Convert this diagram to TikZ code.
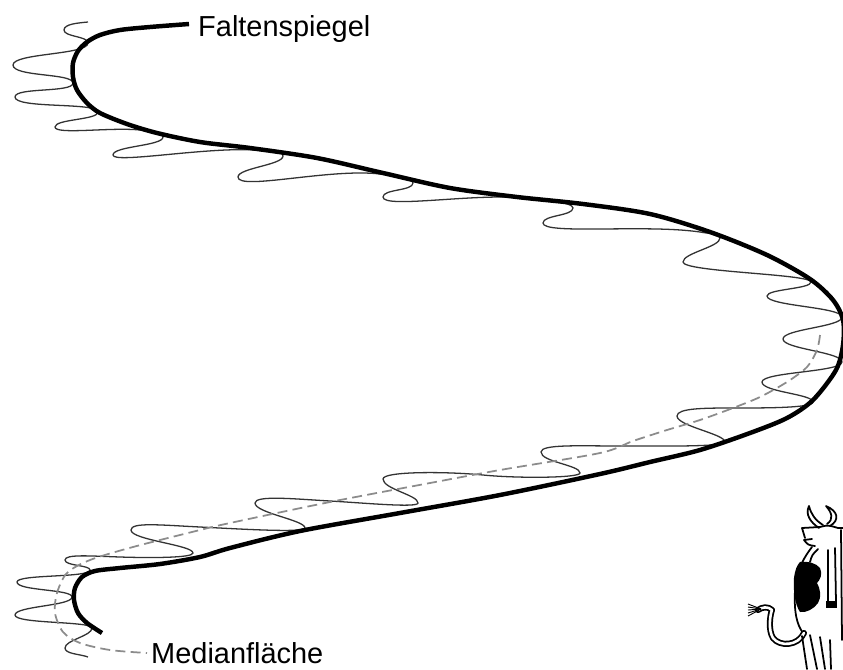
\documentclass[tikz,border=0pt]{standalone}
\usepackage{fontspec}
\setmainfont{Liberation Sans}
\begin{document}
\begin{tikzpicture}[x=0.03cm, y=-0.03cm,
  mirror/.style={line width=3.8pt},
  fold/.style={line width=1.1pt, black!80},
  median/.style={line width=1.5pt, black!45, dash pattern=on 8.5pt off 4.5pt},
  cowline/.style={line width=1.5pt, line join=round, line cap=round},
  label/.style={font=\fontsize{24.7}{28}\selectfont, inner sep=0pt}]

\useasboundingbox (0,0) rectangle (843,669);

% folded layer, every hinge turns with a vertical tangent
\draw[fold] (88,22)
  .. controls +(-10,1) and +(0,-6) .. (64,30)
  .. controls +(0,7) and +(0,-7) .. (88,43)
  .. controls +(0,12) and +(0,-12) .. (13,65)
  .. controls +(0,12) and +(0,-10) .. (73,83)
  .. controls +(0,10) and +(0,-10) .. (15,97)
  .. controls +(0,12) and +(0,-10) .. (98,112)
  .. controls +(0,8) and +(0,-8) .. (55,127)
  .. controls +(0,8) and +(-30,-3) .. (140,130)
  .. controls +(12,1.5) and +(0,-6) .. (163,137)
  .. controls +(0,9) and +(0,-9) .. (113,155)
  .. controls +(0,9) and +(-50,-3) .. (255,150)
  .. controls +(12,1) and +(0,-6) .. (283,156)
  .. controls +(0,9) and +(0,-9) .. (238,177)
  .. controls +(0,14) and +(-50,-6) .. (380,174)
  .. controls +(12,1.5) and +(0,-6) .. (413,183)
  .. controls +(0,8) and +(0,-8) .. (383,197)
  .. controls +(0,12) and +(-50,-5) .. (525,198)
  .. controls +(15,1.5) and +(0,-6) .. (573,208)
  .. controls +(0,8) and +(0,-8) .. (543,223)
  .. controls +(0,12) and +(-55,-8) .. (700,232)
  .. controls +(10,2) and +(0,-5) .. (720,238)
  .. controls +(0,9) and +(0,-9) .. (683,262)
  .. controls +(0,10) and +(0,-8) .. (811,282)
  .. controls +(0,7) and +(0,-7) .. (767,296)
  .. controls +(0,10) and +(0,-10) .. (842,317)
  .. controls +(0,10) and +(0,-10) .. (783,339)
  .. controls +(0,10) and +(0,-10) .. (842,362)
  .. controls +(0,10) and +(0,-10) .. (762,382)
  .. controls +(0,10) and +(0,-8) .. (813,402)
  .. controls +(0,6) and +(30,0) .. (735,408)
  .. controls +(-30,0) and +(0,-8) .. (677,416)
  .. controls +(0,10) and +(0,-8) .. (725,442)
  .. controls +(0,5) and +(40,0) .. (620,446)
  .. controls +(-40,0) and +(0,-8) .. (541,452)
  .. controls +(0,10) and +(0,-8) .. (580,473)
  .. controls +(0,5) and +(35,3.5) .. (483,475)
  .. controls +(-35,-3.5) and +(0,-8) .. (383,479)
  .. controls +(0,10) and +(0,-8) .. (418,503)
  .. controls +(0,5) and +(35,2) .. (330,501)
  .. controls +(-35,-2) and +(0,-8) .. (255,503)
  .. controls +(0,10) and +(0,-8) .. (305,528)
  .. controls +(0,5) and +(40,2) .. (200,527)
  .. controls +(-40,-2) and +(0,-8) .. (131,530)
  .. controls +(0,10) and +(0,-8) .. (193,553)
  .. controls +(0,5) and +(30,1) .. (120,557)
  .. controls +(-30,-1) and +(0,-6) .. (65,560)
  .. controls +(0,6) and +(0,-5) .. (90,570)
  .. controls +(0,8) and +(0,-8) .. (17,582)
  .. controls +(0,9) and +(0,-8) .. (72,597)
  .. controls +(0,9) and +(0,-9) .. (15,615)
  .. controls +(0,9) and +(0,-7) .. (92,628)
  .. controls +(0,8) and +(0,-8) .. (65,648)
  .. controls +(0,6) and +(-8,-3) .. (88,657);

% median surface
\draw[median] plot[smooth] coordinates {
  (820,335) (817,350) (807,367) (787,382) (760,397) (733,408) (700,420)
  (667,430) (633,441) (600,453) (500,470) (430,483) (330,502) (230,523)
  (200,530) (133,547) (90,560) (67,573) (57,593) (55,613) (63,632)
  (80,643) (110,650) (147,653)};

% enveloping surface
\draw[mirror] plot[smooth] coordinates {
  (189,24) (150,27) (120,30) (100,35) (87,42) (78,51) (73,63) (73,77)
  (77,90) (87,103) (100,113) (127,124) (157,133) (200,142) (250,148)
  (317,158) (383,173) (450,188) (517,197) (583,204) (650,214) (710,232)
  (767,255) (810,279) (833,300) (843,320) (843,345) (836,370) (813,400)
  (787,418) (750,433) (700,450) (650,462) (600,474) (500,495) (400,513)
  (300,531) (230,548) (200,557) (160,564) (120,568) (95,571) (82,577)
  (75,588) (74,600) (78,613) (87,623) (102,633)};

\node[label, anchor=base west] (faltenspiegel) at (198,36) {Faltenspiegel};
\node[label, anchor=base west] (medianflaeche) at (151,663) {Medianfläche};

% the cow
\draw[cowline, fill=white] (819,528) .. controls (810,522) and (805,514) .. (809,506)
  .. controls (811,514) and (815,520) .. (823,525);
\draw[cowline, fill=white] (830,526) .. controls (840,520) and (838,511) .. (826,506)
  .. controls (832,513) and (834,519) .. (827,524);
\draw[cowline] (805,538) -- (802,528) -- (820,527) .. controls (828,525) .. (838,528) -- (843,528);
\draw[cowline] (815,546) .. controls (808,545) .. (804,540) -- (812,539);
\draw[cowline] (812,547) .. controls (805,556) and (797,568) .. (795,590)
  .. controls (794,610) and (796,625) .. (804,634);
\draw[cowline] (818,549) .. controls (812,555) .. (810,562);
\fill (800,562) .. controls (808,561) and (816,563) .. (820,568)
  .. controls (823,574) and (820,580) .. (817,583)
  .. controls (820,588) and (822,597) .. (818,603)
  .. controls (814,609) and (806,613) .. (800,612)
  .. controls (795,605) and (793,590) .. (794,578)
  .. controls (795,570) and (797,565) .. (800,562) -- cycle;
\draw[cowline] (828,550) -- (828,602) (835,548) -- (836,602);
\fill (826,601) rectangle (837,608);
\draw[cowline] (841,530) -- (842,640);
\draw[cowline, double, double distance=2.2pt] (804,633)
  .. controls (798,646) and (780,647) .. (773,638)
  .. controls (768,630) and (770,615) .. (772,610)
  .. controls (768,606) and (762,607) .. (758,610);
\foreach \ty in {604,607,610,613,616}
  \draw[line width=0.8pt] (761,609) -- (748,\ty);
\draw[cowline] (802,636) -- (807,669) (810,635) -- (817,669)
  (820,637) -- (825,669) (830,640) -- (831,669);

\end{tikzpicture}
\end{document}
